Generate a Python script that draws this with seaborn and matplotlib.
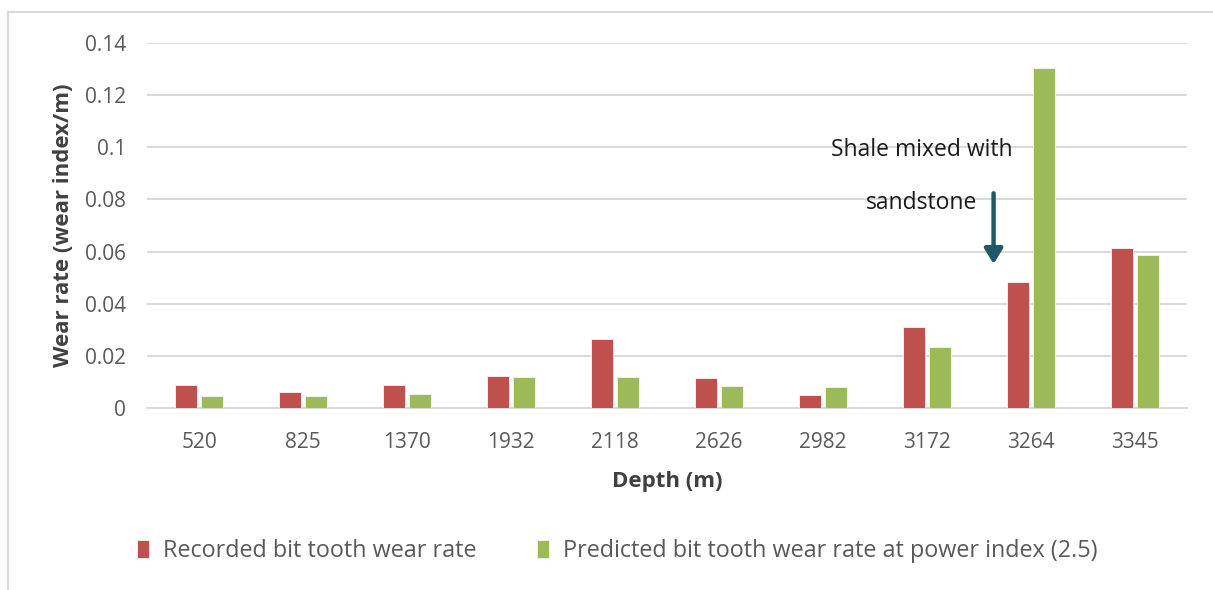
import pandas as pd
import matplotlib.pyplot as plt
import seaborn as sns
from matplotlib.patches import Rectangle

# ----------------------------------------------------------
# data
depths = ["520", "825", "1370", "1932", "2118", "2626", "2982", "3172", "3264", "3345"]
recorded = [0.0091, 0.0064, 0.0089, 0.0124, 0.0267, 0.0116, 0.0051, 0.0312, 0.0484, 0.0612]
predicted = [0.0046, 0.0048, 0.0056, 0.0119, 0.0119, 0.0086, 0.0081, 0.0233, 0.1304, 0.0586]
series_names = ["Recorded bit tooth wear rate",
                "Predicted bit tooth wear rate at power index (2.5)"]
y_ticks = [0, 0.02, 0.04, 0.06, 0.08, 0.1, 0.12, 0.14]

df = pd.DataFrame({
    "depth": depths * 2,
    "rate": recorded + predicted,
    "series": [series_names[0]] * len(depths) + [series_names[1]] * len(depths),
})

# ----------------------------------------------------------
sns.set_style("white")
plt.rcParams["font.family"] = ["Open Sans", "DejaVu Sans"]

RED, GREEN = "#C0504D", "#9BBB59"
GRID = "#D9D9D9"
TXT = "#595959"

fig = plt.figure(figsize=(12.13, 5.90), dpi=100)
ax = fig.add_axes([0.1212, 0.308, 0.8574, 0.6196])

sns.barplot(data=df, x="depth", y="rate", hue="series", order=depths,
            hue_order=series_names, palette=[RED, GREEN], saturation=1,
            width=0.5, gap=0.15, edgecolor="#f4f4f4", linewidth=0.6,
            ax=ax, legend=True, zorder=3)

ax.set_ylim(0, 0.14)
ax.set_yticks(y_ticks)
ax.set_yticklabels([f"{v:g}" for v in y_ticks])
ax.yaxis.grid(True, color=GRID, lw=1.4, zorder=0)
ax.set_axisbelow(True)
for s in ["left", "right", "top"]:
    ax.spines[s].set_visible(False)
ax.spines["bottom"].set_color(GRID)
ax.spines["bottom"].set_linewidth(1.4)
ax.tick_params(axis="both", length=0, labelsize=15, labelcolor=TXT)
ax.tick_params(axis="y", pad=15)
ax.tick_params(axis="x", pad=17)

ax.set_xlabel("Depth (m)", fontsize=16, fontweight="bold", color="#404040", labelpad=13)
ax.set_ylabel("Wear rate (wear index/m)", fontsize=16, fontweight="bold",
              color="#404040", labelpad=8)

# annotation with arrow
ax.text(6.95, 0.0988, "Shale mixed with", ha="center", va="center", fontsize=16.5, color="#1a1a1a")
ax.text(6.95, 0.0786, "sandstone", ha="center", va="center", fontsize=16.5, color="#1a1a1a")
ax.annotate("", xy=(7.64, 0.0542), xytext=(7.64, 0.0834),
            arrowprops=dict(arrowstyle="-|>,head_width=0.55,head_length=0.9",
                            color="#215868", lw=3.2))

# legend below
handles, labels = ax.get_legend_handles_labels()
ax.get_legend().remove()
fig.legend(handles, labels, loc="center", bbox_to_anchor=(0.509, 0.066), ncol=2,
           frameon=False, fontsize=16.8, labelcolor=TXT, handlelength=0.5,
           handleheight=0.8, handletextpad=0.6, columnspacing=2.6)

# chart border (left and top visible)
fig.patches.append(Rectangle((8 / 1213, -0.1), 1.2, 1 - 12 / 590 + 0.1,
                             transform=fig.transFigure, fill=False,
                             edgecolor=GRID, lw=1.5))

fig.savefig("out.png", dpi=100)
